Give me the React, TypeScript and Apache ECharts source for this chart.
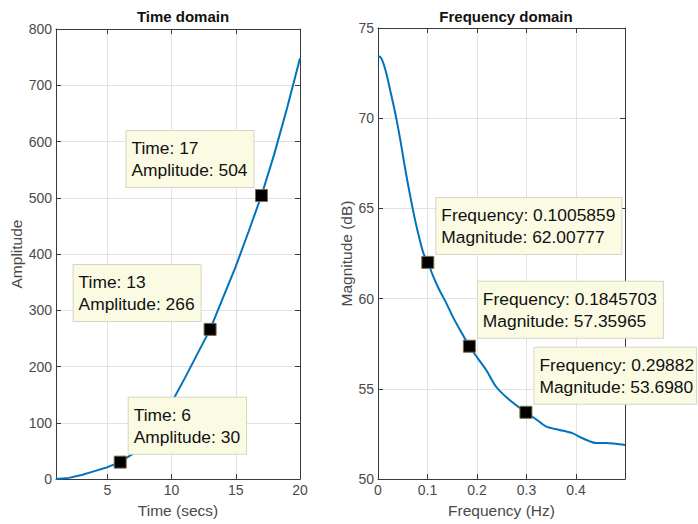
import React, { useEffect, useRef } from "react";
import * as echarts from "echarts";

// Time-domain signal (integer seconds) and its amplitude
const timeSecs = [1, 2, 3, 4, 5, 6, 7, 8, 9, 10, 11, 12, 13, 14, 15, 16, 17, 18, 19, 20];
const amplitude = [0, 2, 7, 14, 21, 30, 45, 70, 100, 136, 178, 222, 266, 322, 378, 440, 504, 578, 660, 748];

// Magnitude spectrum
const freqHz = [
  0, 0.006, 0.012, 0.018, 0.025, 0.032, 0.039, 0.046, 0.053, 0.06, 0.067, 0.07, 0.077, 0.084, 0.092,
  0.1005859, 0.112, 0.124, 0.138, 0.151, 0.168, 0.1845703, 0.2, 0.2186, 0.239, 0.2657, 0.29882, 0.32,
  0.34, 0.3667, 0.3936, 0.41, 0.427, 0.44, 0.461, 0.48, 0.499,
];
const magnitudeDb = [
  73.45, 73.35, 72.95, 72.35, 71.5, 70.65, 69.7, 68.65, 67.5, 66.42, 65.42, 65.0, 64.1, 63.3, 62.5,
  62.00777, 61.2, 60.48, 59.75, 59.0, 58.15, 57.35965, 56.75, 56.04, 55.1, 54.38, 53.698, 53.3,
  52.9, 52.72, 52.53, 52.3, 52.1, 52.0, 52.0, 51.95, 51.88,
];

// Data tips
const tipTimes = [6, 13, 17];
const tipAmps = [30, 266, 504];
const tipFreqs = [0.1005859, 0.1845703, 0.29882];
const tipFreqText = ["0.1005859", "0.1845703", "0.29882"];
const tipMagText = ["62.00777", "57.35965", "53.6980"];
const tipMags = [62.00777, 57.35965, 53.698];

// Tick labels
const timeTicks = [5, 10, 15, 20];
const freqTicks = [0, 0.1, 0.2, 0.3, 0.4];

const FONT = "'Liberation Sans', Arial, Helvetica, sans-serif";
const AXIS_COLOR = "#3a3a3a";
const LABEL_COLOR = "#4a4a4a";
const GRID_COLOR = "#e2e2e2";
const LINE_BLUE = "#0072BD";

function tipLabel(position: number[], padRight = 6) {
  return {
    show: true,
    position,
    align: "left",
    verticalAlign: "top",
    fontFamily: FONT,
    fontSize: 17.4,
    lineHeight: 22,
    color: "#111",
    backgroundColor: "#fbfbe4",
    borderColor: "#d6d6c4",
    borderWidth: 1,
    padding: [6, padRight, 6, 5],
  };
}

export default function App() {
  const ref = useRef<HTMLDivElement>(null);

  useEffect(() => {
    if (!ref.current) return;
    const chart = echarts.init(ref.current, undefined, { renderer: "svg" });

    const mainX = (gridIndex: number, min: number, max: number, ticks: number[], name: string, nameGap: number) => ({
      type: "value",
      gridIndex,
      min,
      max,
      name,
      nameLocation: "middle",
      nameGap,
      nameTextStyle: { fontFamily: FONT, fontSize: 15.5, color: LABEL_COLOR },
      axisLine: { show: true, onZero: false, lineStyle: { color: AXIS_COLOR, width: 1 } },
      axisTick: { show: true, inside: true, length: 5, customValues: ticks, lineStyle: { color: AXIS_COLOR } },
      axisLabel: { customValues: ticks, fontFamily: FONT, fontSize: 14, color: LABEL_COLOR, margin: 4 },
      splitLine: { show: true, lineStyle: { color: GRID_COLOR, width: 1 } },
    });
    const topX = (gridIndex: number, min: number, max: number, ticks: number[]) => ({
      type: "value",
      gridIndex,
      position: "top",
      min,
      max,
      axisLine: { show: true, onZero: false, lineStyle: { color: AXIS_COLOR, width: 1 } },
      axisTick: { show: true, inside: true, length: 5, customValues: ticks, lineStyle: { color: AXIS_COLOR } },
      axisLabel: { show: false },
      splitLine: { show: false },
    });
    const mainY = (gridIndex: number, min: number, max: number, interval: number, name: string, nameGap: number) => ({
      type: "value",
      gridIndex,
      min,
      max,
      interval,
      name,
      nameLocation: "middle",
      nameGap,
      nameTextStyle: { fontFamily: FONT, fontSize: 15.5, color: LABEL_COLOR },
      axisLine: { show: true, onZero: false, lineStyle: { color: AXIS_COLOR, width: 1 } },
      axisTick: { show: true, inside: true, length: 5, lineStyle: { color: AXIS_COLOR } },
      axisLabel: { fontFamily: FONT, fontSize: 14, color: LABEL_COLOR, margin: 4 },
      splitLine: { show: true, lineStyle: { color: GRID_COLOR, width: 1 } },
    });
    const rightY = (gridIndex: number, min: number, max: number, interval: number) => ({
      type: "value",
      gridIndex,
      position: "right",
      min,
      max,
      interval,
      axisLine: { show: true, onZero: false, lineStyle: { color: AXIS_COLOR, width: 1 } },
      axisTick: { show: true, inside: true, length: 5, lineStyle: { color: AXIS_COLOR } },
      axisLabel: { show: false },
      splitLine: { show: false },
    });

    const timeLine = timeSecs.map((t, i) => [t, amplitude[i]]);
    const freqLine = freqHz.map((f, i) => [f, magnitudeDb[i]]);

    const markerStyle = { color: "#000", opacity: 1, borderColor: "#7a6c48", borderWidth: 1 };

    // offsets of each time-domain tip box from its marker
    const timeTipPos = [[15, -58], [-130, -58], [-128.5, -58]];

    chart.setOption({
      animation: false,
      backgroundColor: "#fff",
      textStyle: { fontFamily: FONT },
      title: [
        {
          text: "Time domain",
          left: 178,
          top: 4,
          textAlign: "center",
          textStyle: { fontFamily: FONT, fontSize: 15, fontWeight: "bold", color: "#111" },
        },
        {
          text: "Frequency domain",
          left: 501,
          top: 4,
          textAlign: "center",
          textStyle: { fontFamily: FONT, fontSize: 15, fontWeight: "bold", color: "#111" },
        },
      ],
      grid: [
        { left: 56, top: 29, width: 244, height: 450, show: false },
        { left: 378, top: 28, width: 247, height: 451, show: false },
      ],
      xAxis: [
        mainX(0, 1, 20, timeTicks, "Time (secs)", 23),
        topX(0, 1, 20, timeTicks),
        mainX(1, 0, 0.499, freqTicks, "Frequency (Hz)", 23),
        topX(1, 0, 0.499, freqTicks),
      ],
      yAxis: [
        mainY(0, 0, 800, 100, "Amplitude", 30),
        rightY(0, 0, 800, 100),
        mainY(1, 50, 75, 5, "Magnitude (dB)", 23),
        rightY(1, 50, 75, 5),
      ],
      series: [
        {
          type: "line",
          xAxisIndex: 0,
          yAxisIndex: 0,
          data: timeLine,
          showSymbol: false,
          symbol: "none",
          lineStyle: { color: LINE_BLUE, width: 2 },
          z: 2,
        },
        {
          type: "line",
          xAxisIndex: 2,
          yAxisIndex: 2,
          data: freqLine,
          smooth: 0.3,
          showSymbol: false,
          symbol: "none",
          lineStyle: { color: LINE_BLUE, width: 2 },
          z: 2,
        },
        {
          type: "scatter",
          xAxisIndex: 0,
          yAxisIndex: 0,
          symbol: "rect",
          symbolSize: 12,
          itemStyle: markerStyle,
          z: 5,
          data: tipTimes.map((t, i) => ({
            value: [t, tipAmps[i]],
            label: tipLabel(timeTipPos[i]),
          })),
          label: {
            formatter: (p: any) => `Time: ${p.value[0]}\nAmplitude: ${p.value[1]}`,
          },
        },
        {
          type: "scatter",
          xAxisIndex: 2,
          yAxisIndex: 2,
          symbol: "rect",
          symbolSize: 12,
          itemStyle: markerStyle,
          z: 5,
          data: tipFreqs.map((f, i) => ({
            value: [f, tipMags[i]],
            label: tipLabel([15, -58], i === 2 ? 2 : 6),
          })),
          label: {
            formatter: (p: any) =>
              `Frequency: ${tipFreqText[p.dataIndex]}\nMagnitude: ${tipMagText[p.dataIndex]}`,
          },
        },
      ],
    });

    return () => chart.dispose();
  }, []);

  return (
    <div
      ref={ref}
      style={{ position: "absolute", left: 0, top: 0, width: 698, height: 524 }}
    />
  );
}
